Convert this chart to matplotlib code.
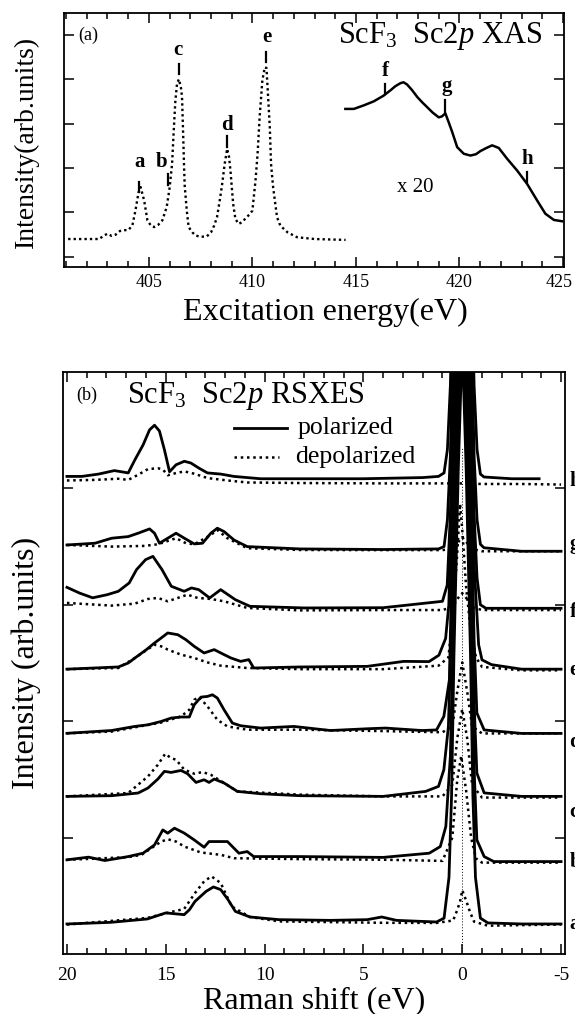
import matplotlib
matplotlib.use("Agg")
import matplotlib.pyplot as plt
from matplotlib.ticker import MultipleLocator, FixedLocator, NullFormatter
from matplotlib.transforms import ScaledTranslation

plt.rcParams['font.family'] = ['Liberation Serif', 'DejaVu Serif']
plt.rcParams['mathtext.fontset'] = 'custom'
plt.rcParams['mathtext.rm'] = 'Liberation Serif'
plt.rcParams['mathtext.it'] = 'Liberation Serif:italic'
plt.rcParams['mathtext.bf'] = 'Liberation Serif:bold'
plt.rcParams['axes.unicode_minus'] = False

# ---------------- Panel (a): XAS data ----------------
xas_E = [401.1, 402.0, 402.6, 402.8, 403.0, 403.2, 403.4, 403.6, 403.8, 404.0,
         404.2, 404.35, 404.5, 404.6, 404.77, 404.93, 405.1, 405.25, 405.45, 405.65,
         405.86, 406.0, 406.12, 406.2, 406.28, 406.36, 406.45, 406.55, 406.6, 406.65,
         406.7, 406.73, 406.83, 406.92, 407.1, 407.25, 407.5, 407.8, 408.0, 408.15,
         408.29, 408.45, 408.54, 408.66, 408.78, 408.87, 408.94, 409.07, 409.18, 409.34,
         409.5, 409.7, 409.85, 410.0, 410.15, 410.25, 410.35, 410.48, 410.6, 410.68,
         410.74, 410.84, 410.9, 411.0, 411.19, 411.35, 411.7, 412.16, 413.0, 414.5]
xas_I = [0.40, 0.40, 0.40, 0.47, 0.52, 0.47, 0.50, 0.58, 0.60, 0.60,
         0.70, 1.04, 1.45, 1.57, 1.27, 0.82, 0.70, 0.67, 0.72, 0.82,
         1.12, 1.55, 2.09, 2.84, 3.52, 3.90, 4.00, 3.80, 3.60, 2.84,
         2.02, 1.60, 1.04, 0.67, 0.55, 0.48, 0.45, 0.46, 0.55, 0.70,
         0.89, 1.35, 1.64, 2.09, 2.43, 2.25, 1.94, 1.19, 0.85, 0.74,
         0.78, 0.88, 0.95, 1.04, 1.72, 2.32, 3.15, 3.97, 4.27, 4.25,
         3.75, 2.92, 2.09, 1.57, 0.89, 0.70, 0.55, 0.44, 0.40, 0.38]

x20_E = [414.49, 414.9, 415.38, 415.86, 416.34, 416.67, 416.9, 417.15, 417.3, 417.47,
         417.7, 417.96, 418.2, 418.44, 418.7, 419.0, 419.15, 419.32, 419.48, 419.65,
         419.89, 420.21, 420.53, 420.8, 421.01, 421.3, 421.58, 421.9, 422.3, 422.79,
         423.27, 423.75, 424.15, 424.56, 424.96]
x20_I = [3.33, 3.33, 3.41, 3.50, 3.63, 3.75, 3.84, 3.91, 3.93, 3.88,
         3.76, 3.60, 3.48, 3.37, 3.25, 3.14, 3.16, 3.23, 3.03, 2.81,
         2.47, 2.32, 2.28, 2.31, 2.38, 2.45, 2.51, 2.45, 2.21, 1.94,
         1.64, 1.27, 0.97, 0.83, 0.80]

xas_marks = ['a', 'b', 'c', 'd', 'e', 'f', 'g', 'h']
mark_E = [404.54, 405.91, 406.44, 408.78, 410.68, 416.40, 419.29, 423.24]
mark_lo = [1.45, 1.61, 4.12, 2.47, 4.38, 3.67, 3.26, 1.68]
mark_hi = [1.68, 1.87, 4.35, 2.73, 4.61, 3.90, 3.52, 1.92]
mark_text_E = [404.54, 405.59, 406.39, 408.78, 410.68, 416.42, 419.40, 423.30]
mark_text_y = [2.13, 2.13, 4.65, 2.96, 4.95, 4.18, 3.84, 2.21]

# ---------------- Panel (b): RSXES data ----------------
labels_b = ['a', 'b', 'c', 'd', 'e', 'f', 'g', 'h']
offsets_b = [0.258, 0.80, 1.354, 1.905, 2.447, 2.98, 3.48, 4.083]
side_label_y = [0.26, 0.79, 1.22, 1.82, 2.44, 2.94, 3.52, 4.06]

pol_a_E = [20.0, 17.78, 15.93, 15.0, 14.07, 13.8, 13.52, 12.96, 12.59, 12.22, 11.85, 11.48, 10.74, 9.26, 6.67, 4.81, 4.07, 3.33, 1.3, 0.92, 0.67, 0.54, 0.42, 0.2, 0.0, -0.2, -0.42, -0.54, -0.67, -0.92, -1.3, -3.0, -5.0]
pol_a_I = [0.0, 0.014, 0.043, 0.095, 0.08, 0.123, 0.194, 0.28, 0.318, 0.295, 0.209, 0.108, 0.06, 0.037, 0.031, 0.037, 0.06, 0.031, 0.017, 0.05, 0.4, 1.1, 2.3, 3.9, 5.0, 3.9, 2.3, 1.1, 0.4, 0.05, 0.009, 0.0, 0.0]
dep_a_E = [20.0, 15.93, 14.81, 14.07, 13.52, 13.06, 12.69, 12.22, 11.67, 10.74, 9.26, 4.0, 1.3, 0.46, 0.25, 0.1, 0.0, -0.2, -0.4, -0.6, -1.3, -3.0, -5.0]
dep_a_I = [-0.005, 0.052, 0.1, 0.129, 0.266, 0.366, 0.409, 0.352, 0.151, 0.06, 0.022, 0.01, 0.009, 0.03, 0.12, 0.2, 0.29, 0.2, 0.1, 0.02, -0.015, -0.01, -0.005]

pol_b_E = [20.0, 18.91, 18.08, 16.9, 16.15, 15.57, 15.15, 14.9, 14.56, 14.06, 13.56, 13.06, 12.81, 11.88, 11.3, 10.88, 10.55, 8.2, 4.0, 1.67, 1.11, 0.83, 0.6, 0.45, 0.2, 0.0, -0.2, -0.45, -0.6, -0.74, -1.11, -1.6, -3.0, -5.0]
pol_b_I = [0.009, 0.032, 0.003, 0.037, 0.066, 0.137, 0.266, 0.238, 0.281, 0.238, 0.18, 0.117, 0.166, 0.166, 0.066, 0.08, 0.037, 0.037, 0.03, 0.066, 0.123, 0.295, 0.9, 2.0, 3.9, 5.0, 3.9, 2.0, 0.8, 0.18, 0.037, -0.006, -0.006, -0.006]
dep_b_E = [20.0, 16.9, 16.23, 15.73, 15.23, 14.9, 14.48, 14.06, 13.22, 12.22, 11.55, 8.2, 4.0, 1.0, 0.5, 0.25, 0.05, -0.2, -0.45, -0.7, -1.0, -3.0, -5.0]
dep_b_I = [0.009, 0.032, 0.052, 0.109, 0.166, 0.186, 0.166, 0.123, 0.072, 0.052, 0.023, 0.015, 0.01, 0.0, 0.2, 0.7, 0.9, 0.6, 0.2, 0.02, -0.015, -0.015, -0.015]

pol_c_E = [20.0, 17.74, 16.4, 15.9, 15.4, 15.07, 14.73, 14.23, 13.9, 13.47, 13.06, 12.81, 12.55, 12.05, 11.38, 10.21, 8.2, 4.0, 1.85, 1.2, 0.93, 0.7, 0.45, 0.2, 0.0, -0.2, -0.45, -0.6, -0.74, -1.11, -3.0, -5.0]
pol_c_I = [0.0, 0.006, 0.029, 0.072, 0.149, 0.215, 0.206, 0.223, 0.195, 0.12, 0.143, 0.12, 0.149, 0.115, 0.043, 0.023, 0.006, 0.0, 0.043, 0.086, 0.229, 0.6, 2.0, 3.9, 5.0, 3.9, 2.0, 0.8, 0.2, 0.03, 0.0, 0.0]
dep_c_E = [20.0, 16.9, 15.9, 15.4, 15.03, 14.73, 14.48, 14.06, 13.56, 13.14, 12.72, 12.05, 11.38, 8.2, 4.0, 1.0, 0.5, 0.25, 0.0, -0.25, -0.5, -1.0, -3.0, -5.0]
dep_c_I = [0.0, 0.029, 0.172, 0.272, 0.366, 0.329, 0.315, 0.229, 0.195, 0.209, 0.186, 0.115, 0.043, 0.015, 0.0, 0.0, 0.1, 0.5, 0.75, 0.5, 0.1, -0.01, -0.01, -0.01]

pol_d_E = [20.0, 17.74, 16.57, 15.9, 15.23, 14.73, 14.23, 13.81, 13.56, 13.22, 12.89, 12.64, 12.39, 12.05, 11.63, 11.21, 10.2, 8.52, 6.67, 4.81, 3.89, 2.04, 1.3, 0.93, 0.65, 0.45, 0.2, 0.0, -0.2, -0.45, -0.6, -0.74, -1.11, -3.0, -5.0]
pol_d_I = [-0.009, 0.015, 0.05, 0.064, 0.093, 0.122, 0.131, 0.131, 0.236, 0.302, 0.308, 0.322, 0.294, 0.193, 0.079, 0.056, 0.036, 0.05, 0.015, 0.03, 0.036, 0.015, 0.02, 0.136, 0.45, 2.0, 3.9, 5.0, 3.9, 2.0, 0.8, 0.165, 0.02, -0.01, -0.01]
dep_d_E = [20.0, 17.74, 15.23, 14.23, 13.81, 13.56, 13.31, 12.89, 12.39, 11.88, 10.88, 8.2, 4.0, 1.0, 0.5, 0.25, 0.0, -0.25, -0.5, -1.0, -3.0, -5.0]
dep_d_I = [-0.009, 0.006, 0.084, 0.136, 0.193, 0.279, 0.302, 0.222, 0.107, 0.05, 0.022, 0.022, 0.01, 0.0, 0.05, 0.35, 0.6, 0.35, 0.05, -0.01, -0.01, -0.01]

pol_e_E = [20.0, 17.4, 16.9, 16.4, 15.98, 15.57, 15.23, 14.9, 14.39, 13.98, 13.56, 13.06, 12.55, 12.05, 11.7, 11.21, 10.8, 10.55, 8.2, 4.81, 2.96, 1.68, 1.18, 0.84, 0.68, 0.5, 0.2, 0.0, -0.2, -0.45, -0.6, -0.83, -1.0, -1.48, -3.0, -5.0]
pol_e_I = [0.0, 0.019, 0.053, 0.116, 0.168, 0.225, 0.268, 0.311, 0.296, 0.253, 0.196, 0.139, 0.168, 0.125, 0.096, 0.067, 0.082, 0.01, 0.019, 0.024, 0.067, 0.065, 0.12, 0.264, 0.55, 1.6, 3.9, 5.0, 3.9, 2.0, 0.9, 0.21, 0.08, 0.039, 0.0, 0.0]
dep_e_E = [20.0, 17.4, 16.57, 16.07, 15.57, 15.23, 14.9, 14.23, 13.56, 12.89, 12.22, 10.88, 8.2, 4.0, 1.2, 0.7, 0.45, 0.25, 0.11, 0.0, -0.2, -0.45, -0.7, -1.0, -3.0, -5.0]
dep_e_I = [0.0, 0.01, 0.096, 0.153, 0.21, 0.196, 0.168, 0.125, 0.096, 0.058, 0.03, 0.01, 0.0, 0.0, 0.03, 0.1, 0.5, 1.0, 1.42, 1.2, 0.7, 0.3, 0.1, 0.02, -0.01, -0.01]

pol_f_E = [20.0, 19.35, 18.7, 17.96, 17.4, 16.85, 16.48, 16.02, 15.65, 15.19, 14.72, 14.07, 13.7, 13.33, 12.78, 12.22, 11.48, 10.74, 8.0, 4.0, 1.0, 0.76, 0.6, 0.45, 0.2, 0.0, -0.2, -0.45, -0.6, -0.75, -0.92, -1.2, -3.0, -5.0]
pol_f_I = [0.17, 0.12, 0.08, 0.107, 0.136, 0.208, 0.322, 0.408, 0.436, 0.322, 0.179, 0.136, 0.165, 0.15, 0.079, 0.15, 0.064, 0.007, -0.007, -0.005, 0.05, 0.19, 0.8, 2.0, 3.9, 5.0, 3.9, 2.0, 0.8, 0.25, 0.02, -0.01, -0.01, -0.01]
dep_f_E = [20.0, 17.74, 16.57, 15.9, 15.4, 14.9, 14.39, 13.9, 13.39, 12.72, 12.05, 10.88, 8.2, 4.0, 1.0, 0.5, 0.2, 0.0, -0.2, -0.5, -1.0, -3.0, -5.0]
dep_f_I = [0.036, 0.013, 0.03, 0.07, 0.079, 0.05, 0.079, 0.107, 0.079, 0.07, 0.05, -0.007, -0.028, -0.025, -0.025, 0.0, 0.08, 0.12, 0.08, 0.0, -0.025, -0.025, -0.025]

pol_g_E = [20.0, 18.58, 17.74, 16.9, 16.4, 15.82, 15.57, 15.32, 14.48, 14.06, 13.56, 13.14, 12.72, 12.39, 12.05, 11.55, 10.88, 8.2, 4.0, 1.2, 0.92, 0.75, 0.6, 0.45, 0.2, 0.0, -0.2, -0.45, -0.6, -0.75, -0.92, -1.1, -3.0, -5.0]
pol_g_I = [0.034, 0.049, 0.092, 0.106, 0.135, 0.172, 0.135, 0.049, 0.135, 0.092, 0.043, 0.049, 0.135, 0.178, 0.149, 0.077, 0.02, 0.0, -0.005, 0.0, 0.02, 0.25, 0.8, 2.0, 3.9, 5.0, 3.9, 2.0, 0.8, 0.25, 0.04, 0.01, -0.02, -0.02]
dep_g_E = [20.0, 17.74, 16.07, 15.4, 14.48, 13.98, 13.56, 12.72, 12.39, 11.88, 10.88, 8.2, 4.0, 1.0, 0.5, 0.2, 0.0, -0.2, -0.5, -1.0, -3.0, -5.0]
dep_g_I = [0.034, 0.02, 0.026, 0.04, 0.092, 0.049, 0.04, 0.12, 0.163, 0.092, 0.006, -0.009, -0.01, -0.01, 0.0, 0.06, 0.1, 0.06, 0.0, -0.02, -0.02, -0.02]

pol_h_E = [20.0, 19.25, 18.4, 17.6, 16.9, 16.57, 16.15, 15.82, 15.57, 15.32, 15.07, 14.81, 14.48, 14.06, 13.73, 13.31, 12.89, 12.22, 11.55, 10.21, 8.2, 5.0, 2.0, 1.2, 0.92, 0.75, 0.6, 0.45, 0.2, 0.0, -0.2, -0.45, -0.6, -0.75, -0.92, -1.1, -2.5, -3.89]
pol_h_I = [0.02, 0.02, 0.04, 0.07, 0.05, 0.16, 0.29, 0.42, 0.46, 0.41, 0.25, 0.06, 0.12, 0.15, 0.135, 0.09, 0.05, 0.04, 0.02, 0.0, 0.0, 0.0, 0.01, 0.02, 0.05, 0.25, 0.8, 2.0, 3.9, 5.0, 3.9, 2.0, 0.8, 0.25, 0.04, 0.015, 0.0, 0.0]
dep_h_E = [20.0, 18.6, 17.4, 16.9, 16.4, 15.9, 15.4, 15.15, 14.9, 14.48, 14.06, 13.56, 12.89, 11.88, 10.88, 8.2, 4.0, 1.0, 0.0, -1.0, -3.0, -5.0]
dep_h_I = [-0.015, -0.01, 0.0, -0.01, 0.034, 0.083, 0.09, 0.08, 0.03, 0.049, 0.063, 0.043, 0.006, -0.015, -0.032, -0.037, -0.04, -0.04, -0.04, -0.045, -0.045, -0.05]

pol_E = [pol_a_E, pol_b_E, pol_c_E, pol_d_E, pol_e_E, pol_f_E, pol_g_E, pol_h_E]
pol_I = [pol_a_I, pol_b_I, pol_c_I, pol_d_I, pol_e_I, pol_f_I, pol_g_I, pol_h_I]
dep_E = [dep_a_E, dep_b_E, dep_c_E, dep_d_E, dep_e_E, dep_f_E, dep_g_E, dep_h_E]
dep_I = [dep_a_I, dep_b_I, dep_c_I, dep_d_I, dep_e_I, dep_f_I, dep_g_I, dep_h_I]

# ---------------- Figure layout ----------------
W, H = 575, 1014
fig = plt.figure(figsize=(W / 100, H / 100), dpi=100)


def box(l, t, r, b):
    return [l / W, 1 - b / H, (r - l) / W, (b - t) / H]


axA = fig.add_axes(box(64, 13, 564, 267))
axB = fig.add_axes(box(63, 372, 565, 954))

for ax in (axA, axB):
    for s in ax.spines.values():
        s.set_linewidth(1.3)
    ax.tick_params(which='both', direction='in', top=True, right=True, width=1.1)
    ax.tick_params(which='major', length=7)
    ax.tick_params(which='minor', length=4)

# ---- panel (a)
axA.set_xlim(400.9, 425.05)
axA.set_ylim(-0.23, 5.49)
axA.xaxis.set_major_locator(FixedLocator([405, 410, 415, 420, 425]))
axA.xaxis.set_minor_locator(MultipleLocator(1))
axA.yaxis.set_major_locator(FixedLocator([0, 1, 2, 3, 4, 5]))
axA.yaxis.set_major_formatter(NullFormatter())
axA.tick_params(axis='x', which='major', pad=5, labelsize=13)

axA.plot(xas_E, xas_I, color='k', lw=1.7, ls=(0, (1, 1.3)))
axA.plot(x20_E, x20_I, color='k', lw=1.8, solid_joinstyle='round')
for m, xe, lo, hi, te, ty in zip(xas_marks, mark_E, mark_lo, mark_hi, mark_text_E, mark_text_y):
    axA.plot([xe, xe], [lo, hi], color='k', lw=1.6)
    axA.text(te, ty, m, fontsize=15, fontweight='bold', ha='center', va='center')

axA.text(424.0, 4.98, r'ScF$_3$  Sc2$\mathit{p}$ XAS', ha='right', va='center', fontsize=22)
axA.text(401.6, 4.98, '(a)', ha='left', va='center', fontsize=13)
axA.text(417.87, 1.57, 'x 20', ha='center', va='center', fontsize=15)

fig.canvas.draw()
last = axA.get_xticklabels()[-1]
last.set_transform(last.get_transform() + ScaledTranslation(-4 / 100, 0, fig.dpi_scale_trans))

fig.text(26 / W, 1 - 142 / H, 'Intensity(arb.units)', rotation=90, ha='center', va='center', fontsize=20)
fig.text(325 / W, 1 - 312 / H, 'Excitation energy(eV)', ha='center', va='center', fontsize=23)

# ---- panel (b)
axB.set_xlim(20.2, -5.2)
axB.set_ylim(0, 5)
axB.xaxis.set_major_locator(FixedLocator([20, 15, 10, 5, 0, -5]))
axB.xaxis.set_minor_locator(MultipleLocator(1))
axB.yaxis.set_major_locator(FixedLocator([1, 2, 3, 4]))
axB.yaxis.set_major_formatter(NullFormatter())
axB.tick_params(axis='x', which='major', pad=9, labelsize=14)

axB.plot([0, 0], [0, 4.35], color='k', lw=0.7, ls=(0, (1, 2)))
for off, pe, pi, de, di in zip(offsets_b, pol_E, pol_I, dep_E, dep_I):
    axB.plot(de, [off + v for v in di], color='k', lw=1.8, ls=(0, (1, 1.5)))
    axB.plot(pe, [off + v for v in pi], color='k', lw=2.0, solid_joinstyle='round')

for lab, yy in zip(labels_b, side_label_y):
    axB.text(-5.42, yy, lab, fontsize=15, fontweight='bold', ha='left', va='center', clip_on=False)

axB.text(19.54, 4.80, '(b)', ha='left', va='center', fontsize=13)
axB.text(16.94, 4.79, r'ScF$_3$  Sc2$\mathit{p}$ RSXES', ha='left', va='center', fontsize=22)
axB.plot([11.57, 8.89], [4.52, 4.52], color='k', lw=2.0)
axB.text(8.33, 4.52, 'polarized', ha='left', va='center', fontsize=18.5)
axB.plot([11.57, 9.26], [4.27, 4.27], color='k', lw=1.8, ls=(0, (1, 1.5)))
axB.text(8.43, 4.27, 'depolarized', ha='left', va='center', fontsize=18.5)

fig.text(26 / W, 1 - 663 / H, 'Intensity (arb.units)', rotation=90, ha='center', va='center', fontsize=23)
fig.text(314 / W, 1 - 1001 / H, 'Raman shift (eV)', ha='center', va='center', fontsize=23)

fig.savefig('out.png', dpi=100)
